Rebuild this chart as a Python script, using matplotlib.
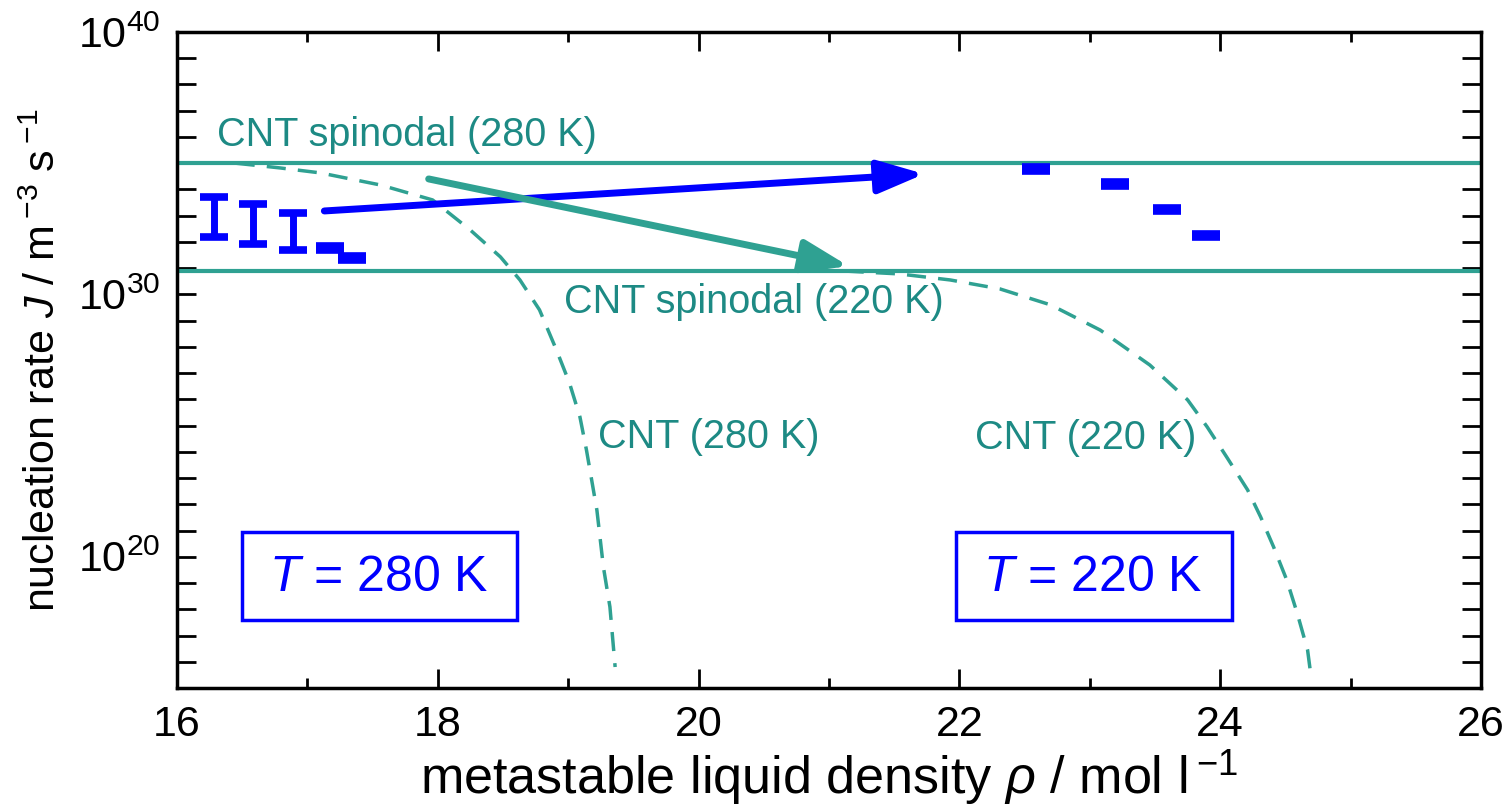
import matplotlib.pyplot as plt
import matplotlib.ticker as mticker
from matplotlib.patches import Rectangle
import numpy as np

plt.rcParams['font.family'] = ['Liberation Sans', 'DejaVu Sans']
plt.rcParams['mathtext.fontset'] = 'custom'
plt.rcParams['mathtext.rm'] = 'Liberation Sans'
plt.rcParams['mathtext.it'] = 'Liberation Sans:italic'
plt.rcParams['mathtext.bf'] = 'Liberation Sans:bold'

BLUE = '#0000ff'
TEAL = '#2fa192'
TEAL_TXT = '#1d8a84'

# simulation results, log10 of J with error half-widths (decades)
rho_280 = [16.28, 16.58, 16.89, 17.17, 17.34]
logJ_280 = [32.95, 32.68, 32.40, 31.77, 31.39]
err_280 = [0.76, 0.76, 0.70, 0.07, 0.07]

rho_220 = [22.59, 23.19, 23.59, 23.89]
logJ_220 = [34.78, 34.21, 33.22, 32.23]
err_220 = [0.06, 0.06, 0.06, 0.06]

# classical nucleation theory curves
cnt_rho_280 = [16.45, 16.79, 17.10, 17.56, 17.96, 18.25, 18.48, 18.63, 18.78,
               18.91, 19.01, 19.09, 19.14, 19.22, 19.27, 19.32, 19.36]
cnt_logJ_280 = [35.00, 34.82, 34.63, 34.17, 33.60, 32.45, 31.43, 30.55, 29.41,
                27.88, 26.62, 25.33, 24.07, 21.78, 19.61, 18.09, 15.80]

cnt_rho_220 = [21.12, 21.31, 21.54, 21.93, 22.31, 22.70, 23.08, 23.46, 23.75,
               23.90, 24.05, 24.21, 24.31, 24.41, 24.51, 24.59, 24.67, 24.70]
cnt_logJ_220 = [30.89, 30.84, 30.78, 30.55, 30.21, 29.60, 28.64, 27.31, 25.98,
                24.95, 23.80, 22.55, 21.52, 20.37, 19.12, 17.86, 16.45, 15.31]

# CNT spinodal limits (log10 J)
spinodal_280 = 35.0
spinodal_220 = 30.9

# guide arrows: (rho, log10 J) start -> end
arrow_blue = [(17.13, 33.18), (21.73, 34.59)]
arrow_teal = [(17.93, 34.40), (21.15, 31.08)]

fig = plt.figure(figsize=(15.12, 8.09), dpi=100)
ax = fig.add_axes([177 / 1512, 1 - 688 / 809, 1304 / 1512, 656 / 809])
ax.set_yscale('log')
ax.set_xlim(16, 26)
ax.set_ylim(1e15, 1e40)

ax.axhline(10**spinodal_280, color=TEAL, lw=3, zorder=2)
ax.axhline(10**spinodal_220, color=TEAL, lw=3, zorder=2)

ax.plot(cnt_rho_280, 10**np.array(cnt_logJ_280), color=TEAL, lw=2.5,
        dashes=(5.5, 3.5), zorder=2)
ax.plot(cnt_rho_220, 10**np.array(cnt_logJ_220), color=TEAL, lw=2.5,
        dashes=(5.5, 3.5), zorder=2)


def log_errorbar(rho, logJ, err):
    logJ = np.array(logJ)
    err = np.array(err)
    J = 10**logJ
    lo = J - 10**(logJ - err)
    hi = 10**(logJ + err) - J
    ax.errorbar(rho, J, yerr=[lo, hi], fmt='none', ecolor=BLUE,
                elinewidth=5, capsize=10, capthick=5.5, zorder=4)


log_errorbar(rho_280, logJ_280, err_280)
log_errorbar(rho_220, logJ_220, err_220)

for (x0, y0), (x1, y1), col in [(arrow_blue[0], arrow_blue[1], BLUE),
                                (arrow_teal[0], arrow_teal[1], TEAL)]:
    ax.annotate('', xy=(x1, 10**y1), xytext=(x0, 10**y0),
                arrowprops=dict(arrowstyle='-|>,head_length=1.4,head_width=0.5',
                                mutation_scale=20, lw=5, color=col,
                                shrinkA=0, shrinkB=0), zorder=5)

ax.text(16.31, 10**36.07, 'CNT spinodal (280 K)', color=TEAL_TXT, fontsize=28.5,
        va='center', ha='left')
ax.text(18.97, 10**29.71, 'CNT spinodal (220 K)', color=TEAL_TXT, fontsize=28.5,
        va='center', ha='left')
ax.text(19.23, 10**24.57, 'CNT (280 K)', color=TEAL_TXT, fontsize=28.5,
        va='center', ha='left')
ax.text(22.12, 10**24.53, 'CNT (220 K)', color=TEAL_TXT, fontsize=28.5,
        va='center', ha='left')

# temperature boxes
for x0, x1, xc, label in [(0.0498, 0.2607, 0.1549, r'$\mathit{T}$ = 280 K'),
                          (0.5974, 0.8090, 0.7025, r'$\mathit{T}$ = 220 K')]:
    ax.add_patch(Rectangle((x0, 0.1037), x1 - x0, 0.2378 - 0.1037,
                           transform=ax.transAxes, fill=False,
                           edgecolor=BLUE, lw=2.5, zorder=3))
    ax.text(xc, 0.1677, label, transform=ax.transAxes, color=BLUE,
            fontsize=36, ha='center', va='center')

ax.xaxis.set_major_locator(mticker.MultipleLocator(2))
ax.xaxis.set_minor_locator(mticker.MultipleLocator(1))
ax.yaxis.set_major_locator(mticker.FixedLocator([1e20, 1e30, 1e40]))
ax.yaxis.set_minor_locator(mticker.FixedLocator([10.0**k for k in range(15, 41)]))
ax.yaxis.set_minor_formatter(mticker.NullFormatter())
ax.yaxis.set_major_formatter(
    mticker.FuncFormatter(lambda v, p: r'$\mathregular{10^{%d}}$' % round(np.log10(v))))

ax.tick_params(which='both', direction='in', top=True, right=True,
               width=2, labelsize=31, pad=12)
ax.tick_params(axis='x', which='major', length=14)
ax.tick_params(axis='x', which='minor', length=7)
ax.tick_params(axis='y', which='both', length=14)
for s in ax.spines.values():
    s.set_linewidth(2.5)

ax.set_xlabel(r'metastable liquid density $\mathit{\rho}$ / mol l$\,^{-1}$',
              fontsize=37.5, labelpad=2)
ax.set_ylabel(r'nucleation rate $\mathit{J}$ / m$\,^{-3}$ s$\,^{-1}$',
              fontsize=31, labelpad=10)

fig.savefig('out.png', dpi=100)
